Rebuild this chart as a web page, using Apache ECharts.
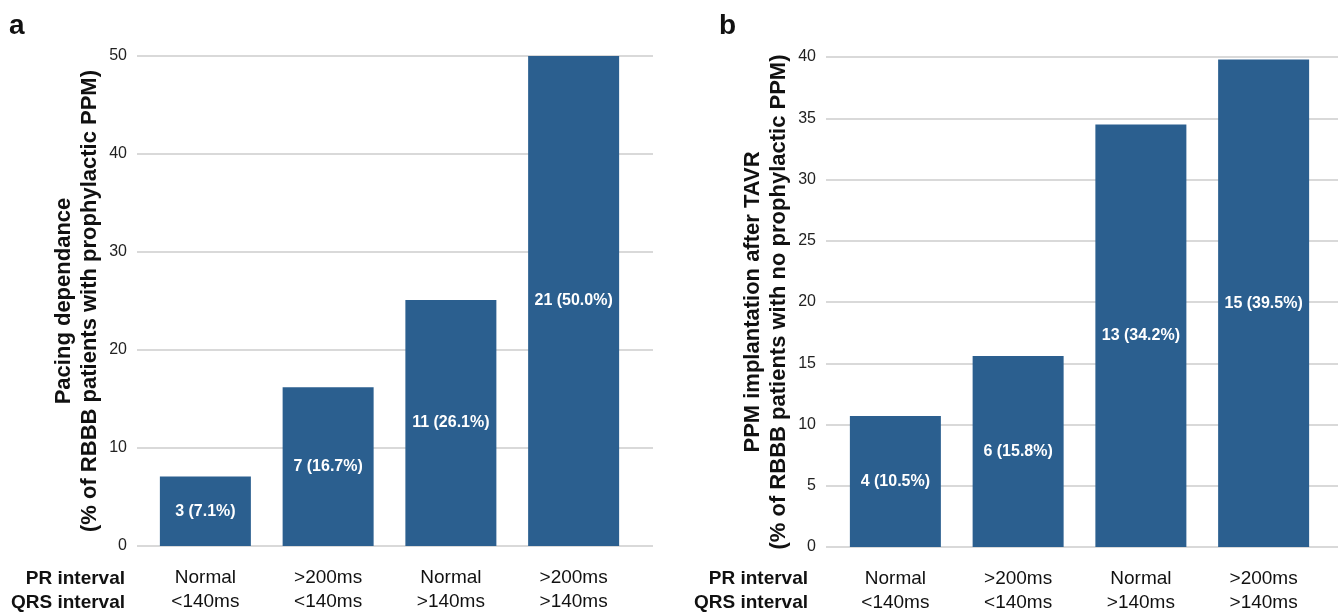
<!DOCTYPE html>
<html>
<head>
<meta charset="utf-8">
<script src="https://cdn.jsdelivr.net/npm/echarts@6/dist/echarts.min.js"></script>
<style>
html,body{margin:0;padding:0;background:#fff;}
#chart{width:1342px;height:616px;}
</style>
</head>
<body>
<div id="chart"></div>
<script>
// ---- data ----
const prLabels = ['Normal', '>200ms', 'Normal', '>200ms'];
const qrsLabels = ['<140ms', '<140ms', '>140ms', '>140ms'];
const pacingValues = [7.1, 16.2, 25.1, 50.0];
const pacingBarLabels = ['3 (7.1%)', '7 (16.7%)', '11 (26.1%)', '21 (50.0%)'];
const ppmValues = [10.7, 15.6, 34.5, 39.8];
const ppmBarLabels = ['4 (10.5%)', '6 (15.8%)', '13 (34.2%)', '15 (39.5%)'];
const pacingAxis = { min: 0, max: 50, interval: 10 };
const ppmAxis = { min: 0, max: 40, interval: 5 };
const pacingTitle = 'Pacing dependance\n(% of RBBB patients with prophylactic PPM)';
const ppmTitle = 'PPM implantation after TAVR\n(% of RBBB patients with no prophylactic PPM)';
const rowTitles = ['PR interval', 'QRS interval'];
const panelLetters = ['a', 'b'];

const categories = prLabels.map((p, i) => p + '\n' + qrsLabels[i]);
const FONT = '"Liberation Sans", Arial, sans-serif';
const BAR = '#2b5f8f';
const GRIDC = '#d9d9d9';

const chart = echarts.init(document.getElementById('chart'), null, { renderer: 'canvas' });

function bgY(gridIndex, ax, title, gap) {
  return {
    gridIndex, type: 'value', min: ax.min, max: ax.max, interval: ax.interval,
    axisLine: { show: false }, axisTick: { show: false },
    axisLabel: { color: '#222', fontSize: 16, fontFamily: FONT, margin: 10 },
    splitLine: { show: true, lineStyle: { color: GRIDC, width: 2 } },
    name: title, nameLocation: 'middle', nameGap: gap, nameRotate: 90,
    nameTextStyle: { color: '#111', fontSize: 22, fontWeight: 'bold', fontFamily: FONT, lineHeight: 26 }
  };
}
function fgY(gridIndex, ax) {
  return { gridIndex, type: 'value', min: ax.min, max: ax.max, interval: ax.interval, show: false, splitLine: { show: false } };
}
function fgX(gridIndex) {
  return {
    gridIndex, type: 'category', data: categories,
    axisLine: { show: false }, axisTick: { show: false },
    axisLabel: { color: '#111', fontSize: 19, fontFamily: FONT, margin: 20, lineHeight: 24, interval: 0 }
  };
}
function barSeries(xi, yi, values, labels) {
  return {
    type: 'bar', xAxisIndex: xi, yAxisIndex: yi, data: values, barWidth: 91,
    itemStyle: { color: BAR },
    label: {
      show: true, position: 'inside', color: '#fff', fontWeight: 'bold', fontSize: 16, fontFamily: FONT,
      formatter: p => labels[p.dataIndex]
    },
    z: 5
  };
}

const rowText = (txt, x, y) => ({
  type: 'text', x, y,
  style: { text: txt, fill: '#111', font: 'bold 19px ' + FONT, textAlign: 'right', textVerticalAlign: 'middle' }
});

const option = {
  animation: false,
  backgroundColor: '#fff',
  grid: [
    { left: 137, top: 56, width: 516, height: 490 },
    { left: 144, top: 56, width: 491, height: 490 },
    { left: 826, top: 57, width: 512, height: 490 },
    { left: 834, top: 57, width: 491, height: 490 }
  ],
  xAxis: [
    { gridIndex: 0, type: 'category', data: [], show: false },
    fgX(1),
    { gridIndex: 2, type: 'category', data: [], show: false },
    fgX(3)
  ],
  yAxis: [
    bgY(0, pacingAxis, pacingTitle, 34),
    fgY(1, pacingAxis),
    bgY(2, ppmAxis, ppmTitle, 34),
    fgY(3, ppmAxis)
  ],
  series: [
    barSeries(1, 1, pacingValues, pacingBarLabels),
    barSeries(3, 3, ppmValues, ppmBarLabels)
  ],
  graphic: [
    rowText(rowTitles[0], 125, 579),
    rowText(rowTitles[1], 125, 603),
    rowText(rowTitles[0], 808, 579),
    rowText(rowTitles[1], 808, 603),
    { type: 'text', x: 9, y: 12, style: { text: panelLetters[0], fill: '#111', font: 'bold 28px ' + FONT } },
    { type: 'text', x: 719, y: 12, style: { text: panelLetters[1], fill: '#111', font: 'bold 28px ' + FONT } }
  ]
};
chart.setOption(option);
</script>
</body>
</html>
